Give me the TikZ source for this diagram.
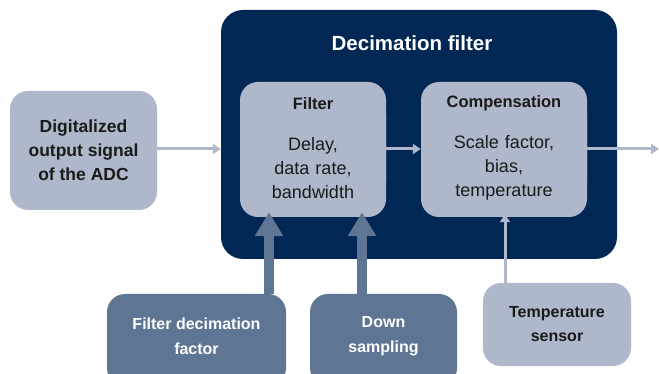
\documentclass[tikz,border=0pt]{standalone}
\usepackage{fontspec}
\setmainfont{Liberation Sans}
\usetikzlibrary{arrows.meta}
\definecolor{navy}{HTML}{012855}
\definecolor{lightbox}{HTML}{AFB7CB}
\definecolor{midbox}{HTML}{5F7594}
\definecolor{darktext}{HTML}{1A1A1A}
\newcommand{\hd}[1]{{\fontsize{16.5}{24}\selectfont\bfseries #1}}
\tikzset{
  x=1pt,y=-1pt,
  lbox/.style={fill=lightbox,rounded corners=18pt,inner sep=0pt,align=center,text=darktext,
    font=\fontsize{18}{24}\selectfont},
  mbox/.style={fill=midbox,rounded corners=18pt,inner sep=0pt,align=center,text=white,
    font=\fontsize{16}{25}\selectfont\bfseries},
  thinarrow/.style={draw=lightbox,line width=3pt,-{Triangle[width=10pt,length=8pt]}},
  thickarrow/.style={draw=midbox,line width=10pt,-{Triangle[width=27pt,length=24pt]}},
}
\begin{document}
\begin{tikzpicture}
\clip (0,0) rectangle (659,374);
\useasboundingbox (0,0) rectangle (659,374);
\node[fill=navy,rounded corners=22pt,minimum width=396pt,minimum height=249pt,inner sep=0pt] (big) at (419,134.5) {};
\node[text=white,font=\fontsize{20.5}{24}\selectfont\bfseries] (title) at (412,43) {Decimation filter};
\node[lbox,minimum width=146pt,minimum height=135pt] (filter) at (313,149.5) {};
\node[lbox,text width=146pt] (filtert) at (313,148) {\hd{Filter}\\[17pt]Delay,\\data rate,\\bandwidth};
\node[lbox,minimum width=166pt,minimum height=135pt] (comp) at (504,149.5) {};
\node[lbox,text width=166pt] (compt) at (504,148) {\hd{Compensation}\\[17pt]Scale factor,\\bias,\\temperature};
\node[lbox,minimum width=147pt,minimum height=119pt,font=\fontsize{17.5}{24}\selectfont\bfseries] (input) at (83.5,150.5) {Digitalized\\output signal\\of the ADC};
\node[mbox,minimum width=179pt,minimum height=92pt] (fdf) at (196.5,340) {};
\node[mbox] (fdft) at (196.5,336) {Filter decimation\\factor};
\node[mbox,minimum width=147pt,minimum height=92pt] (ds) at (383.5,340) {};
\node[mbox] (dst) at (383.5,336) {Down\\sampling};
\node[lbox,minimum width=148pt,minimum height=83pt,font=\fontsize{16}{24}\selectfont\bfseries] (ts) at (557,324.5) {Temperature\\sensor};
\coordinate (out) at (659,149);
\draw[thinarrow] (input.east |- 0,149) -- (big.west |- 0,149);
\draw[thinarrow] (filter.east |- 0,149) -- (comp.west |- 0,149);
\draw[thinarrow] (comp.east |- 0,149) -- (out);
\draw[thinarrow] (ts.north -| 505,0) -- ([yshift=3pt]comp.south -| 505,0);
\draw[thickarrow] (fdf.north -| 269,0) -- ([yshift=5pt]filter.south -| 269,0);
\draw[thickarrow] (ds.north -| 362,0) -- ([yshift=5pt]filter.south -| 362,0);
\end{tikzpicture}
\end{document}
